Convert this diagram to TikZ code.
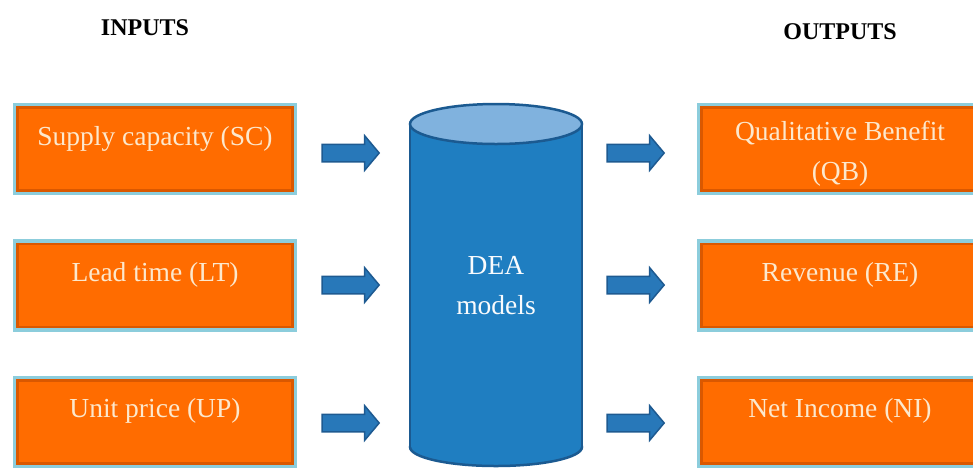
\documentclass[tikz,border=0pt]{standalone}
\usepackage{fontspec}
\setmainfont{Liberation Serif}
\usetikzlibrary{shapes.arrows}
\definecolor{boxorange}{RGB}{255,108,0}
\definecolor{boxedge}{RGB}{140,205,220}
\definecolor{boxshadow}{RGB}{218,88,0}
\definecolor{boxtext}{RGB}{252,232,205}
\definecolor{cylblue}{RGB}{31,126,193}
\definecolor{cyledge}{RGB}{27,90,145}
\definecolor{cyltop}{RGB}{128,178,222}
\definecolor{arrblue}{RGB}{40,120,185}
\definecolor{arredge}{RGB}{30,90,145}
\tikzset{
  inbox/.style={rectangle, fill=boxorange, draw=boxedge, line width=3.5pt,
    minimum width=281pt, minimum height=89pt, inner sep=0pt,
    path picture={\draw[boxshadow, line width=2.5pt]
      ([xshift=2.8pt,yshift=2.8pt]path picture bounding box.south west) rectangle
      ([xshift=-2.8pt,yshift=-2.8pt]path picture bounding box.north east);}},
  boxlabel/.style={text=boxtext, font=\fontsize{27.5}{40}\selectfont, align=center},
  blockarrow/.style={single arrow, fill=arrblue, draw=arredge, line width=1.5pt,
    minimum height=57pt, inner xsep=0pt, inner ysep=8pt, single arrow head extend=8.5pt,
    single arrow tip angle=100},
  title/.style={font=\fontsize{24}{28}\selectfont\bfseries}
}
\begin{document}
\begin{tikzpicture}[x=1pt,y=-1pt]
\useasboundingbox (0,0) rectangle (973,467);
\clip (0,0) rectangle (973,467);
% titles
\node[title] (tin) at (145,28) {INPUTS};
\node[title] (tout) at (840,32) {OUTPUTS};
% input boxes
\node[inbox] (sc) at (155,149) {};
\node[inbox] (lt) at (155,285.5) {};
\node[inbox] (up) at (155,422) {};
\node[boxlabel] (sct) at (155,139) {Supply capacity (SC)};
\node[boxlabel] (ltt) at (155,275) {Lead time (LT)};
\node[boxlabel] (upt) at (155,411) {Unit price (UP)};
% output boxes
\node[inbox] (qb) at (839,149) {};
\node[inbox] (re) at (839,285.5) {};
\node[inbox] (ni) at (839,422) {};
\node[boxlabel] (qbt) at (840,154) {Qualitative Benefit\\(QB)};
\node[boxlabel] (ret) at (840,275) {Revenue (RE)};
\node[boxlabel] (nit) at (840,411) {Net Income (NI)};
% cylinder
\draw[cyledge, line width=2.5pt, fill=cylblue] (496,447) ellipse [x radius=86, y radius=19];
\fill[cylblue] (410,124) rectangle (582,447);
\draw[cyledge, line width=2.5pt] (410,124) -- (410,447) (582,124) -- (582,447);
\draw[cyledge, line width=2.5pt, fill=cyltop] (496,124) ellipse [x radius=86, y radius=20];
\node[boxlabel, text=white!95!cyltop] (dea) at (496,286) {DEA\\models};
% arrows
\node[blockarrow] (a1) at (347,153) {};
\node[blockarrow] (a2) at (347,285) {};
\node[blockarrow] (a3) at (347,423) {};
\node[blockarrow] (b1) at (632,153) {};
\node[blockarrow] (b2) at (632,285) {};
\node[blockarrow] (b3) at (632,423) {};
\end{tikzpicture}
\end{document}
